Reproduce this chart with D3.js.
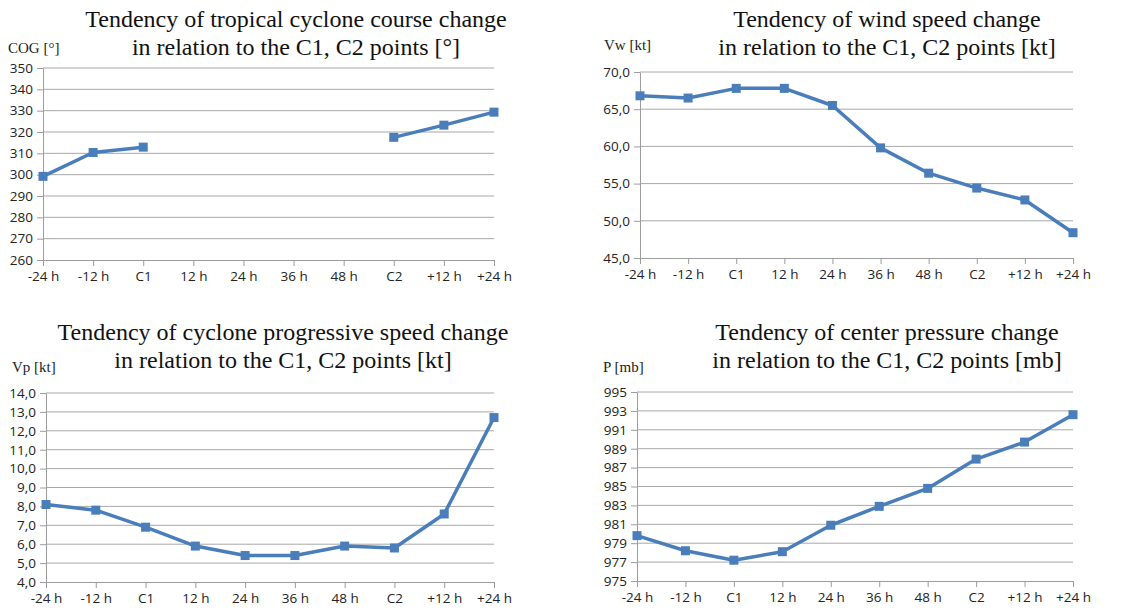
<!doctype html>
<html lang="en">
<head>
  <meta charset="utf-8">
  <title>Tropical cyclone tendencies</title>
  <script src="https://cdnjs.cloudflare.com/ajax/libs/d3/7.8.5/d3.min.js"></script>
  <style>
    body { margin: 0; background: #fff; }
    .title { font-family: "Liberation Serif", serif; font-size: 24px; fill: #111; text-anchor: middle; }
    .unit { font-family: "Liberation Serif", serif; font-size: 15px; fill: #222; }
    .tick text { font-family: "Open Sans", sans-serif; font-size: 13.5px; fill: #222; }
    .grid line { stroke: #a8a8a8; stroke-width: 1; }
    .axis path, .axis line { stroke: #9c9c9c; }
  </style>
</head>
<body>
  <svg width="1137" height="609"></svg>
  <script>
  // categories (shared by all four charts)
  const hours = ["-24 h", "-12 h", "C1", "12 h", "24 h", "36 h", "48 h", "C2", "+12 h", "+24 h"];

  // series
  const cogValues = [299.2, 310.4, 312.9, null, null, null, null, 317.5, 323.2, 329.3];
  const windValues = [66.8, 66.5, 67.8, 67.8, 65.5, 59.8, 56.4, 54.4, 52.8, 48.4];
  const progValues = [8.1, 7.8, 6.9, 5.9, 5.4, 5.4, 5.9, 5.8, 7.6, 12.7];
  const pressureValues = [979.8, 978.2, 977.2, 978.1, 980.9, 982.9, 984.8, 987.9, 989.7, 992.6];

  // y tick labels
  const cogTicks = [260, 270, 280, 290, 300, 310, 320, 330, 340, 350];
  const windTicks = [45, 50, 55, 60, 65, 70];
  const progTicks = [4, 5, 6, 7, 8, 9, 10, 11, 12, 13, 14];
  const pressureTicks = [975, 977, 979, 981, 983, 985, 987, 989, 991, 993, 995];

  const titles = [
    ["Tendency of tropical cyclone course change", "in relation to the C1, C2 points [°]"],
    ["Tendency of wind speed change", "in relation to the C1, C2 points [kt]"],
    ["Tendency of cyclone progressive speed change", "in relation to the C1, C2 points [kt]"],
    ["Tendency of center pressure change", "in relation to the C1, C2 points [mb]"]
  ];
  const units = ["COG [°]", "Vw [kt]", "Vp [kt]", "P [mb]"];

  const lineColor = "#4a7ebb";
  const svg = d3.select("svg");

  const comma1 = d => d3.format(".1f")(d).replace(".", ",");

  const panels = [
    {values: cogValues, ticks: cogTicks, fmt: d3.format("d"), title: titles[0], unit: units[0],
     left: 43, right: 494, top: 68, bottom: 260, tx: 296, ty: 27, ux: 8, uy: 53},
    {values: windValues, ticks: windTicks, fmt: comma1, title: titles[1], unit: units[1],
     left: 640, right: 1073, top: 72, bottom: 258, tx: 887, ty: 27, ux: 604, uy: 50},
    {values: progValues, ticks: progTicks, fmt: comma1, title: titles[2], unit: units[2],
     left: 46, right: 494, top: 393, bottom: 582, tx: 283, ty: 340, ux: 12, uy: 372},
    {values: pressureValues, ticks: pressureTicks, fmt: d3.format("d"), title: titles[3], unit: units[3],
     left: 637, right: 1073, top: 392, bottom: 581, tx: 887, ty: 340, ux: 603, uy: 372}
  ];

  panels.forEach(p => {
    const g = svg.append("g");

    const x = d3.scalePoint().domain(hours).range([p.left, p.right]);
    const y = d3.scaleLinear()
      .domain([p.ticks[0], p.ticks[p.ticks.length - 1]])
      .range([p.bottom, p.top]);

    // titles
    g.append("text").attr("class", "title").attr("x", p.tx).attr("y", p.ty).text(p.title[0]);
    g.append("text").attr("class", "title").attr("x", p.tx).attr("y", p.ty + 28).text(p.title[1]);
    g.append("text").attr("class", "unit").attr("x", p.ux).attr("y", p.uy).text(p.unit);

    // horizontal gridlines
    g.append("g").attr("class", "grid")
      .selectAll("line")
      .data(p.ticks.slice(1))
      .enter()
      .append("line")
      .attr("x1", p.left).attr("x2", p.right)
      .attr("y1", d => y(d)).attr("y2", d => y(d));

    // axes
    g.append("g").attr("class", "axis")
      .attr("transform", `translate(${p.left},0)`)
      .call(d3.axisLeft(y).tickValues(p.ticks).tickFormat(p.fmt).tickSize(6).tickSizeOuter(0).tickPadding(4));

    g.append("g").attr("class", "axis")
      .attr("transform", `translate(0,${p.bottom})`)
      .call(d3.axisBottom(x).tickSize(6).tickSizeOuter(0).tickPadding(5));

    // line and markers
    const rows = hours.map((h, i) => ({h: h, v: p.values[i]}));
    const line = d3.line()
      .defined(d => d.v !== null)
      .x(d => x(d.h))
      .y(d => y(d.v));

    g.append("path")
      .datum(rows)
      .attr("fill", "none")
      .attr("stroke", lineColor)
      .attr("stroke-width", 3.5)
      .attr("stroke-linejoin", "round")
      .attr("d", line);

    g.selectAll(".marker")
      .data(rows.filter(d => d.v !== null))
      .enter()
      .append("rect")
      .attr("class", "marker")
      .attr("x", d => x(d.h) - 4.5)
      .attr("y", d => y(d.v) - 4.5)
      .attr("width", 9)
      .attr("height", 9)
      .attr("fill", lineColor);
  });
  </script>
</body>
</html>
